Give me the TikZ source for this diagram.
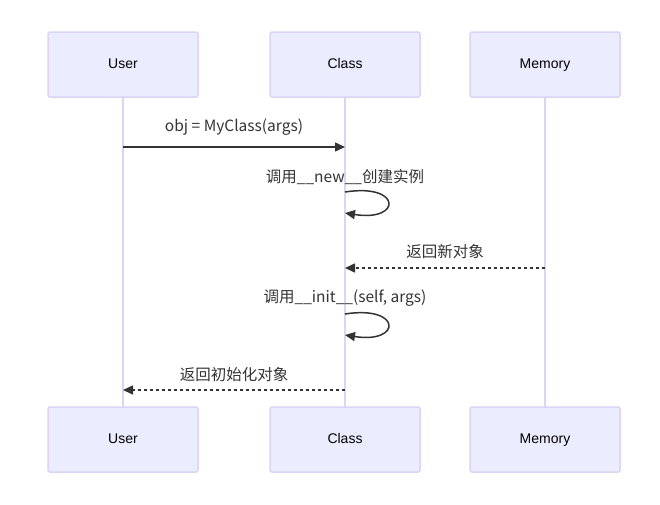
\documentclass[tikz,border=0pt]{standalone}
\usepackage{fontspec}
\setmainfont{Liberation Sans}
\newfontfamily\cjk{Noto Sans CJK SC}
\usetikzlibrary{arrows.meta}
\usetikzlibrary{positioning}

\definecolor{actorfill}{HTML}{ECECFF}
\definecolor{actorline}{HTML}{DCD3F5}
\definecolor{msgline}{HTML}{333333}

\tikzset{
  actor/.style={rectangle,rounded corners=2pt,draw=actorline,fill=actorfill,line width=1.5pt,
    minimum width=150pt,minimum height=65pt,text height=10pt,text depth=3pt,
    font=\fontsize{14}{16}\selectfont},
  lifeline/.style={draw=actorline,line width=1.8pt},
  msg/.style={draw=msgline,line width=1.5pt,-{Triangle[length=10pt,width=9pt]}},
  reply/.style={msg,dash pattern=on 3pt off 3pt},
  msglabel/.style={font=\cjk\fontsize{15.5}{18}\selectfont,text=msgline}
}

\begin{document}
\begin{tikzpicture}[x=1pt,y=-1pt]
    \useasboundingbox (0,0) rectangle (660,504);
    % lifelines
    \draw[lifeline] (123,97) -- (123,407);
    \draw[lifeline] (345,97) -- (345,407);
    \draw[lifeline] (545,97) -- (545,407);
    \begin{scope}[every node/.style={actor}]
      \node (userTop) at (123,64.5) {User};
      \node (classTop) at (345,64.5) {Class};
      \node (memTop) at (545,64.5) {Memory};
      \node (userBot) at (123,439.5) {User};
      \node (classBot) at (345,439.5) {Class};
      \node (memBot) at (545,439.5) {Memory};
    \end{scope}
    % points on the lifelines
    \coordinate (u1) at (123,147);
    \coordinate (c1) at (345,147);
    \coordinate (c2) at (345,192);
    \coordinate (c3) at (345,213);
    \coordinate (m4) at (545,268);
    \coordinate (c4) at (345,268);
    \coordinate (c5) at (345,314);
    \coordinate (c6) at (345,335);
    \coordinate (c7) at (345,390);
    \coordinate (u7) at (123,390);
    % labels
    \begin{scope}[every node/.style={msglabel}]
      \node (lblCall) at (234,127) {obj = MyClass(args)};
      \node (lblNew) at (345,177) {调用\_\_new\_\_创建实例};
      \node (lblRet) at (445,252) {返回新对象};
      \node (lblInit) at (345,298) {调用\_\_init\_\_(self, args)};
      \node (lblDone) at (234,375) {返回初始化对象};
    \end{scope}
    % messages
    \path (u1) edge[msg] (c1);
    \draw[msg] (c2) .. controls (402,183) and (402,222) .. (c3);
    \path (m4) edge[reply] (c4);
    \draw[msg] (c5) .. controls (402,305) and (402,344) .. (c6);
    \path (c7) edge[reply] (u7);
\end{tikzpicture}
\end{document}
